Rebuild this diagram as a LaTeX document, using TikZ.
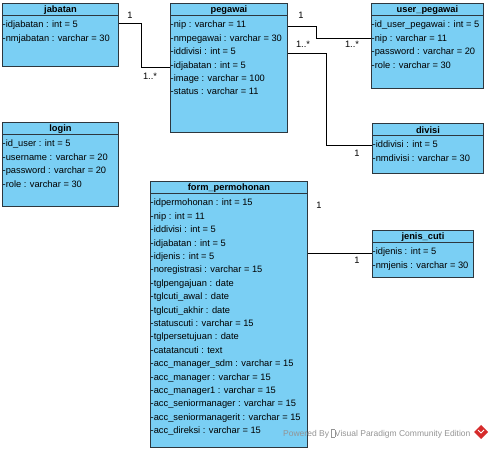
\documentclass[tikz,border=0pt]{standalone}
\usepackage{fontspec}
\setmainfont{Liberation Sans}
\usetikzlibrary{calc}
\definecolor{clsfill}{RGB}{122,207,244}
\definecolor{clsline}{RGB}{45,55,62}
\definecolor{logored}{RGB}{214,43,43}
\tikzset{
  cls/.style={draw=clsline, fill=clsfill, line width=.9pt, anchor=north west, inner sep=0pt},
  sep/.style={draw=clsline, line width=.9pt},
  ttl/.style={font=\fontsize{9.3}{11}\selectfont\bfseries, inner sep=0pt},
  row/.style={font=\fontsize{9.3}{11}\selectfont, anchor=west, inner sep=.5pt, text height=7pt, text depth=2pt},
  mult/.style={font=\fontsize{9.3}{11}\selectfont, inner sep=0pt},
  assoc/.style={draw=black, line width=.8pt}
}
% class box: name, corner, width, height, title, attribute rows
\newcommand{\umlbox}[6]{%
  \node[cls, minimum width=#3pt, minimum height=#4pt] (#1) at (#2) {};
  \draw[sep] ($(#1.north west)+(0,12)$) -- ($(#1.north east)+(0,12)$);
  \node[ttl] at ($(#1.north)+(0,7)$) {#5};
  \foreach \r [count=\i] in {#6}
    \node[row] at ($(#1.north west)+(0,9+13.4*\i)$) {\r};
}
\begin{document}
\begin{tikzpicture}[x=1pt, y=-1pt]
\useasboundingbox (0,0) rectangle (491,449);

\umlbox{jabatan}{2,3}{116}{63}{jabatan}{-idjabatan : int = 5, -nmjabatan : varchar = 30}
\umlbox{pegawai}{170,3}{117}{129}{pegawai}{-nip : varchar = 11, -nmpegawai : varchar = 30, -iddivisi : int = 5, -idjabatan : int = 5, -image : varchar = 100, -status : varchar = 11}
\umlbox{userpegawai}{371,3}{112}{85}{user\_pegawai}{-id\_user\_pegawai : int = 5, -nip : varchar = 11, -password : varchar = 20, -role : varchar = 30}
\umlbox{divisi}{372,123}{111}{50}{divisi}{-iddivisi : int = 5, -nmdivisi : varchar = 30}
\umlbox{login}{2,122}{116}{84}{login}{-id\_user : int = 5, -username : varchar = 20, -password : varchar = 20, -role : varchar = 30}
\umlbox{jeniscuti}{372,230}{101}{47}{jenis\_cuti}{-idjenis : int = 5, -nmjenis : varchar = 30}
\umlbox{form}{150,181}{157}{266}{form\_permohonan}{-idpermohonan : int = 15, -nip : int = 11, -iddivisi : int = 5, -idjabatan : int = 5, -idjenis : int = 5, -noregistrasi : varchar = 15, -tglpengajuan : date, -tglcuti\_awal : date, -tglcuti\_akhir : date, -statuscuti : varchar = 15, -tglpersetujuan : date, -catatancuti : text, -acc\_manager\_sdm : varchar = 15, -acc\_manager : varchar = 15, -acc\_manager1 : varchar = 15, -acc\_seniormanager : varchar = 15, -acc\_seniormanagerit : varchar = 15, -acc\_direksi : varchar = 15}

% associations
\draw[assoc] ($(jabatan.north east)+(0,20)$) -- ++(22,0) |- ($(pegawai.north west)+(0,64)$);
\draw[assoc] ($(pegawai.north east)+(0,23)$) -- ++(28,0) |- ($(userpegawai.north west)+(0,35)$);
\draw[assoc] ($(pegawai.north east)+(0,50)$) -- ++(38,0) |- ($(divisi.north west)+(0,22)$);
\coordinate (fj) at ($(form.north east)+(0,72)$);
\draw[assoc] (fj) -- (fj -| jeniscuti.west);

% multiplicities
\node[mult] (m1) at (130,15) {1};
\node[mult] (m2) at (150,76) {1..*};
\node[mult] (m3) at (301,15) {1};
\node[mult] (m4) at (303,44) {1..*};
\node[mult] (m5) at (352,44) {1..*};
\node[mult] (m6) at (357,153) {1};
\node[mult] (m7) at (319,205) {1};
\node[mult] (m8) at (357,260) {1};

% watermark
\node[font=\fontsize{8.5}{10}\selectfont, text=black!42, anchor=west, inner sep=0pt] (wm) at (283,434)
  {Powered By {\fboxsep=0pt\fboxrule=.3pt\fbox{\phantom{\rule{3pt}{7pt}}}}Visual Paradigm Community Edition};
\fill[logored] (481,425) -- (488,432) -- (481,439) -- (474,432) -- cycle;
\draw[white, line width=1pt] (478,430) -- (481,433) -- (484,430);
\end{tikzpicture}
\end{document}
